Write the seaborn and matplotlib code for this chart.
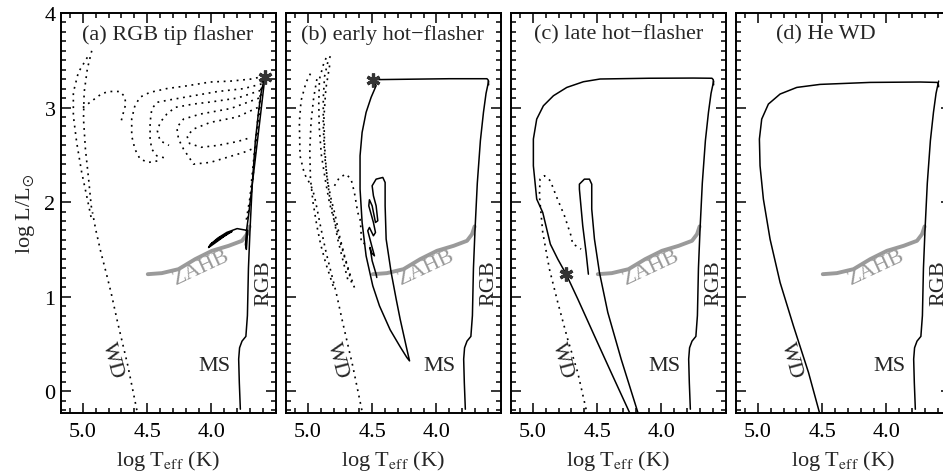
import numpy as np
import pandas as pd
import matplotlib
matplotlib.use("Agg")
import matplotlib.pyplot as plt
from matplotlib.ticker import MultipleLocator, FixedLocator
import seaborn as sns

# ---------------- data (log Teff, log L/Lsun) ----------------
# common main sequence + red giant branch
ms_rgb_T = [3.775, 3.783, 3.788, 3.781, 3.762, 3.732, 3.720, 3.712, 3.700, 3.682, 3.658, 3.634, 3.614, 3.600, 3.594]
ms_rgb_L = [-0.19, 0.09, 0.34, 0.46, 0.53, 0.58, 0.80, 1.30, 1.70, 2.20, 2.65, 2.95, 3.15, 3.24, 3.28]

# zero-age horizontal branch
zahb_T = [4.495, 4.386, 4.256, 4.126, 3.996, 3.866, 3.762, 3.723, 3.703]
zahb_L = [1.238, 1.249, 1.291, 1.397, 1.485, 1.538, 1.591, 1.661, 1.743]

# white dwarf cooling track (dotted, panel a)
wd_T = [4.58, 4.65, 4.73, 4.78, 4.82, 4.86, 4.90, 4.925]
wd_L = [-0.20, 0.27, 0.73, 1.04, 1.26, 1.47, 1.71, 1.89]

# ---- panel (a) RGB tip flasher ----
a_flash_T = [3.580]
a_flash_L = [3.320]
a_post_T = [3.585, 3.620, 3.655, 3.690, 3.712, 3.725, 3.735, 3.728, 3.718, 3.800, 3.880, 3.950,
            4.010, 4.022, 3.970, 3.900, 3.840, 3.930, 4.000, 3.960, 3.880]
a_post_L = [3.310, 2.900, 2.500, 2.100, 1.850, 1.720, 1.550, 1.500, 1.700, 1.720, 1.680, 1.620,
            1.550, 1.520, 1.570, 1.640, 1.690, 1.630, 1.560, 1.590, 1.660]
a_d1_T = [4.965, 5.035, 5.074, 5.074, 5.048, 5.009, 4.965, 4.930]
a_d1_L = [3.531, 3.372, 3.160, 2.914, 2.631, 2.314, 2.032, 1.800]
a_d2_T = [4.931, 4.965, 4.990, 4.995, 4.980, 4.955, 4.935, 4.925]
a_d2_L = [3.600, 3.410, 3.160, 2.880, 2.560, 2.240, 1.960, 1.890]
a_d3_T = [5.000, 4.920, 4.850, 4.790, 4.710, 4.672, 4.668, 4.688, 4.705]
a_d3_L = [3.000, 3.080, 3.150, 3.170, 3.170, 3.110, 3.030, 2.930, 2.840]
a_d4_T = [3.590, 3.700, 3.850, 4.010, 4.190, 4.350, 4.480, 4.555, 4.595, 4.620, 4.620, 4.595, 4.555, 4.490, 4.400]
a_d4_L = [3.330, 3.300, 3.280, 3.270, 3.230, 3.200, 3.160, 3.110, 3.020, 2.880, 2.700, 2.560, 2.455, 2.420, 2.440]
a_d5_T = [3.610, 3.750, 3.950, 4.140, 4.330, 4.425, 4.464, 4.477, 4.477, 4.464, 4.425, 4.370]
a_d5_L = [3.250, 3.200, 3.170, 3.125, 3.080, 3.055, 2.984, 2.843, 2.667, 2.561, 2.490, 2.470]
a_d6_T = [3.620, 3.800, 4.000, 4.140, 4.282, 4.347, 4.399, 4.420, 4.400, 4.330]
a_d6_L = [3.180, 3.100, 3.060, 3.037, 3.002, 2.931, 2.843, 2.750, 2.650, 2.600]
a_d7_T = [3.630, 3.850, 4.087, 4.217, 4.269, 4.256, 4.217, 4.139, 4.009, 3.879, 3.749, 3.685]
a_d7_L = [3.100, 2.990, 2.931, 2.878, 2.790, 2.667, 2.561, 2.402, 2.420, 2.473, 2.526, 2.561]
a_d8_T = [3.640, 3.800, 4.009, 4.139, 4.190, 4.170, 4.080, 3.950, 3.800, 3.700]
a_d8_L = [3.000, 2.900, 2.843, 2.773, 2.700, 2.620, 2.580, 2.600, 2.640, 2.680]
a_d9_T = [3.600, 3.630, 3.660, 3.685, 3.705, 3.720]
a_d9_L = [3.350, 2.900, 2.500, 2.150, 1.950, 1.820]
a_d10_T = [3.615, 3.645, 3.675, 3.700, 3.730]
a_d10_L = [3.200, 2.800, 2.400, 2.050, 1.800]

# ---- panel (b) early hot-flasher ----
b_flash_T = [4.490]
b_flash_L = [3.295]
b_track_T = [3.594, 3.597, 3.607, 3.900, 4.200, 4.490, 4.469, 4.508, 4.547, 4.578, 4.594, 4.594,
             4.578, 4.547, 4.495, 4.443, 4.360, 4.282, 4.230, 4.209, 4.230, 4.282, 4.313,
             4.352, 4.391, 4.399, 4.399, 4.417, 4.469, 4.500, 4.490, 4.469, 4.456, 4.474,
             4.500, 4.521, 4.526, 4.490, 4.474, 4.490, 4.521, 4.534, 4.500, 4.482, 4.508,
             4.516, 4.500, 4.469, 4.464]
b_track_L = [3.240, 3.290, 3.305, 3.305, 3.300, 3.295, 3.231, 3.108, 2.949, 2.737, 2.490, 2.138,
             1.785, 1.432, 1.115, 0.903, 0.650, 0.470, 0.357, 0.321, 0.445, 0.762, 0.974,
             1.256, 1.609, 1.961, 2.208, 2.261, 2.243, 2.173, 2.067, 1.961, 1.803, 1.785,
             1.961, 2.025, 1.961, 1.785, 1.679, 1.644, 1.732, 1.697, 1.521, 1.432, 1.468,
             1.521, 1.380, 1.238, 1.203]
b_d1_T = [4.58, 4.651, 4.729, 4.780, 4.819, 4.858, 4.897, 4.923, 4.949, 4.975, 5.027, 5.061, 5.066, 5.053, 5.014, 4.975]
b_d1_L = [-0.20, 0.268, 0.727, 1.044, 1.256, 1.467, 1.714, 1.891, 2.067, 2.173, 2.300, 2.490, 2.843, 3.072, 3.266, 3.372]
b_d2_T = [4.638, 4.677, 4.715, 4.754, 4.786, 4.819, 4.845, 4.870, 4.880, 4.880, 4.870, 4.845, 4.820]
b_d2_L = [1.097, 1.256, 1.432, 1.644, 1.855, 2.032, 2.208, 2.500, 2.800, 3.100, 3.330, 3.480, 3.560]
b_d3_T = [4.660, 4.700, 4.745, 4.790, 4.830, 4.860, 4.895, 4.912, 4.915, 4.910, 4.880, 4.846]
b_d3_L = [1.150, 1.350, 1.560, 1.780, 1.980, 2.200, 2.500, 2.800, 3.050, 3.300, 3.450, 3.566]
b_d4_T = [4.793, 4.754, 4.703, 4.664, 4.638, 4.612, 4.594, 4.586, 4.586, 4.547, 4.520]
b_d4_L = [2.173, 2.261, 2.296, 2.243, 2.102, 1.891, 1.820, 1.700, 1.573, 1.556, 1.540]
b_d5_T = [4.690, 4.730, 4.770, 4.800, 4.830, 4.855, 4.870, 4.875, 4.860, 4.830]
b_d5_L = [1.185, 1.400, 1.620, 1.850, 2.050, 2.300, 2.600, 2.900, 3.200, 3.450]
b_d6_T = [4.930, 4.955, 4.975, 4.985, 4.980, 4.960, 4.930, 4.900, 4.860, 4.800]
b_d6_L = [3.300, 3.100, 2.850, 2.550, 2.250, 2.000, 1.750, 1.550, 1.350, 1.100]

# ---- panel (c) late hot-flasher ----
c_flash_T = [4.741]
c_flash_L = [1.238]
c_track_T = [3.594, 3.597, 3.607, 3.750, 4.100, 4.477, 4.607, 4.736, 4.840, 4.918, 4.970, 4.996,
             4.996, 4.970, 4.923, 4.864, 4.806, 4.741, 4.650, 4.521, 4.391, 4.248]
c_track_L = [3.240, 3.295, 3.310, 3.312, 3.310, 3.302, 3.273, 3.213, 3.125, 3.019, 2.878, 2.667,
             2.384, 2.032, 1.890, 1.556, 1.397, 1.238, 0.974, 0.586, 0.198, -0.225]
c_loop_T = [4.183, 4.313, 4.417, 4.482, 4.521, 4.542, 4.542, 4.560, 4.599, 4.638, 4.638, 4.612, 4.586, 4.568]
c_loop_L = [-0.225, 0.339, 0.833, 1.256, 1.610, 1.926, 2.190, 2.243, 2.243, 2.190, 2.138, 1.750, 1.467, 1.238]
c_dot_T = [4.586, 4.651, 4.729, 4.806, 4.871, 4.923, 4.949, 4.944, 4.910, 4.864, 4.819, 4.754, 4.703, 4.690, 4.664, 4.625]
c_dot_L = [-0.190, 0.198, 0.550, 0.938, 1.291, 1.679, 2.067, 2.243, 2.279, 2.226, 2.067, 1.855, 1.644, 1.556, 1.538, 1.503]

# ---- panel (d) He WD ----
d_track_T = [3.594, 3.597, 3.607, 3.736, 4.126, 4.516, 4.697, 4.827, 4.918, 4.970, 4.988, 4.983,
             4.957, 4.905, 4.827, 4.723, 4.606, 4.521]
d_track_L = [3.220, 3.255, 3.266, 3.270, 3.266, 3.245, 3.213, 3.143, 3.037, 2.878, 2.667, 2.384,
             2.032, 1.608, 1.150, 0.690, 0.198, -0.225]

titles = ["(a) RGB tip flasher", "(b) early hot\u2212flasher", "(c) late hot\u2212flasher", "(d) He WD"]
title_T = [4.344, 4.344, 4.336, 4.469]
xticks = [5.0, 4.5, 4.0]
xtick_labels = ["5.0", "4.5", "4.0"]
yticks = [0, 1, 2, 3, 4]
ytick_labels = ["0", "1", "2", "3", "4"]

# ---------------- style ----------------
sns.set_style("ticks")
plt.rcParams["font.family"] = ["Liberation Serif", "DejaVu Serif"]
plt.rcParams["mathtext.fontset"] = "stix"
plt.rcParams["axes.linewidth"] = 1.4

DOT = (0, (1.1, 2.8))
FS = 16

fig = plt.figure(figsize=(9.43, 4.77), dpi=100)
lefts = [61, 286, 511, 736]
W = 214.7
axes = [fig.add_axes([l / 943, 63 / 477, W / 943, 400 / 477]) for l in lefts]


def line(ax, T, L, **kw):
    df = pd.DataFrame({"T": T, "L": L})
    sns.lineplot(data=df, x="T", y="L", sort=False, estimator=None, ax=ax,
                 legend=False, **kw)


def star(ax, T, L):
    ax.plot(T, L, marker=(6, 2, 0), ms=10, mew=2.3, color="#333333", ls="none", zorder=6)


for i, ax in enumerate(axes):
    line(ax, zahb_T, zahb_L, color="#9a9a9a", lw=2.8, zorder=2)
    line(ax, ms_rgb_T, ms_rgb_L, color="black", lw=1.1, zorder=3)

# panel a
ax = axes[0]
for T, L in [(a_d1_T, a_d1_L), (a_d2_T, a_d2_L), (a_d3_T, a_d3_L), (a_d4_T, a_d4_L),
             (a_d5_T, a_d5_L), (a_d6_T, a_d6_L), (a_d7_T, a_d7_L), (a_d8_T, a_d8_L),
             (a_d9_T, a_d9_L), (a_d10_T, a_d10_L), (wd_T, wd_L)]:
    line(ax, T, L, color="black", lw=1.2, linestyle=DOT)
line(ax, a_post_T, a_post_L, color="black", lw=1.1, zorder=3)
star(ax, a_flash_T, a_flash_L)

# panel b
ax = axes[1]
for T, L in [(b_d1_T, b_d1_L), (b_d2_T, b_d2_L), (b_d3_T, b_d3_L), (b_d4_T, b_d4_L),
             (b_d5_T, b_d5_L), (b_d6_T, b_d6_L)]:
    line(ax, T, L, color="black", lw=1.2, linestyle=DOT)
line(ax, b_track_T, b_track_L, color="black", lw=1.1, zorder=3)
star(ax, b_flash_T, b_flash_L)

# panel c
ax = axes[2]
line(ax, c_dot_T, c_dot_L, color="black", lw=1.2, linestyle=DOT)
line(ax, c_track_T, c_track_L, color="black", lw=1.1, zorder=3)
line(ax, c_loop_T, c_loop_L, color="black", lw=1.1, zorder=3)
star(ax, c_flash_T, c_flash_L)

# panel d
ax = axes[3]
line(ax, d_track_T, d_track_L, color="black", lw=1.1, zorder=3)

for i, ax in enumerate(axes):
    ax.set_xlim(5.17, 3.50)
    ax.set_ylim(-0.23, 4.0)
    ax.xaxis.set_major_locator(FixedLocator(xticks))
    ax.set_xticklabels(xtick_labels)
    ax.xaxis.set_minor_locator(MultipleLocator(0.1))
    ax.yaxis.set_major_locator(FixedLocator(yticks))
    ax.yaxis.set_minor_locator(MultipleLocator(0.1))
    ax.tick_params(which="both", direction="in", top=True, right=True, width=1.1,
                   labelsize=FS, colors="black")
    ax.tick_params(which="major", length=7)
    ax.tick_params(which="minor", length=3.5)
    ax.tick_params(axis="x", which="major", pad=6.5)
    ax.tick_params(axis="y", which="major", pad=4)
    for s in ax.spines.values():
        s.set_visible(True)
        s.set_linewidth(1.4)
        s.set_color("black")
    if i == 0:
        ax.set_yticklabels(ytick_labels)
        ax.set_ylabel(r"log L/L$_{\odot}$", fontsize=FS, labelpad=5)
    else:
        ax.set_yticklabels([])
        ax.set_ylabel("")
    ax.set_xlabel(r"log T$_{\rm eff}$ (K)", fontsize=FS, labelpad=5)
    ax.text(title_T[i], 3.78, titles[i], fontsize=FS, ha="center", va="center")
    ax.text(4.078, 1.31, "ZAHB", fontsize=FS, color="#9a9a9a", rotation=25,
            ha="center", va="center")
    ax.text(3.59, 1.15, "RGB", fontsize=FS, rotation=90, ha="center", va="center")
    ax.text(3.98, 0.27, "MS", fontsize=FS, ha="center", va="center")
    ax.text(4.77 if i < 3 else 4.74, 0.33, "WD", fontsize=FS, rotation=-75,
            ha="center", va="center")

fig.savefig("out.png", dpi=100)
